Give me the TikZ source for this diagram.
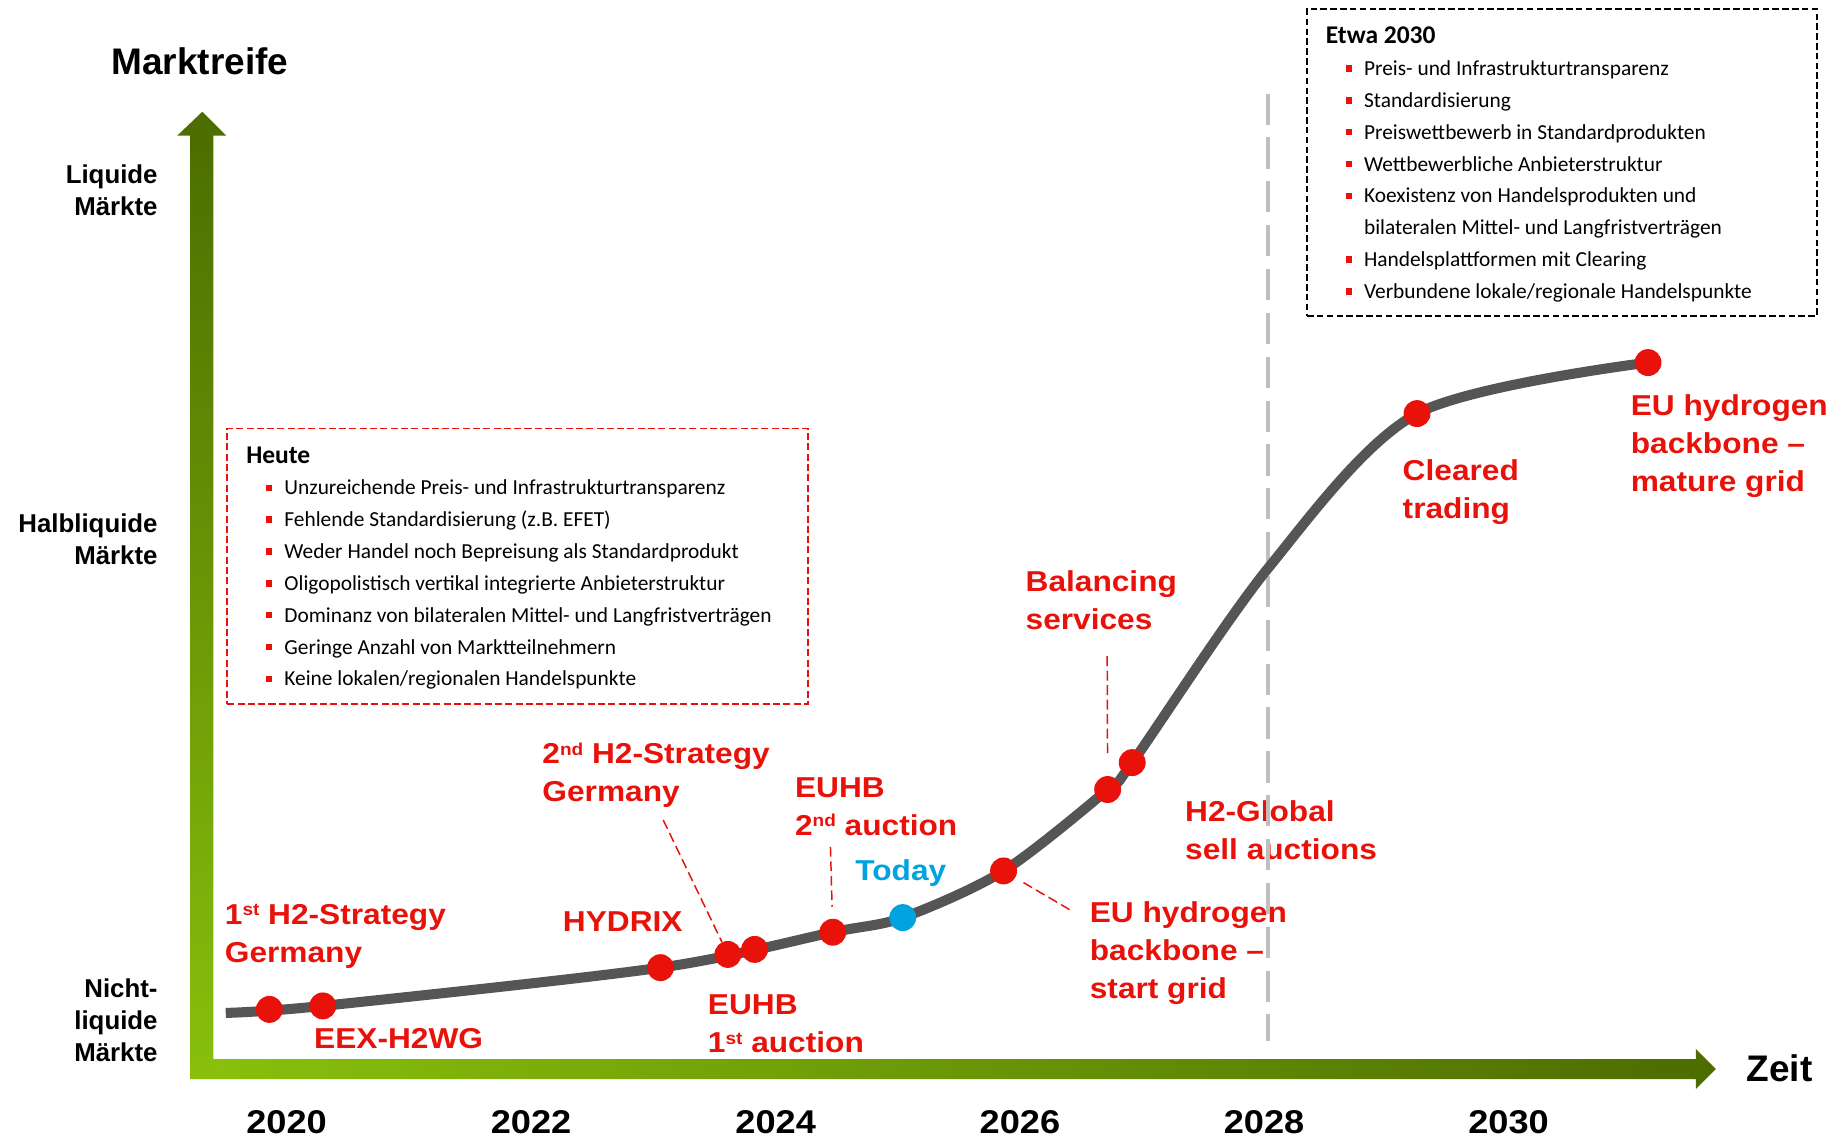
\documentclass[tikz,border=0pt]{standalone}
\usepackage{fontspec}
\setmainfont{Liberation Sans}
\newfontfamily\lblfont[FakeStretch=1.1]{Liberation Sans}
\newfontfamily\boxfont{Carlito}
\usetikzlibrary{positioning}
\definecolor{ptred}{RGB}{232,18,10}
\definecolor{todayblue}{RGB}{0,163,224}
\definecolor{curvegray}{RGB}{85,85,85}
\definecolor{linegray}{RGB}{191,191,191}
\definecolor{grlight}{RGB}{136,192,12}
\definecolor{grdark}{RGB}{76,108,0}
\newcommand{\ordsup}[1]{\raisebox{0.3em}{\fontsize{10.5}{10.5}\selectfont #1}}
\newcommand{\bul}{\hspace*{0.43cm}\makebox[0.385cm][l]{\textcolor{ptred}{\rule[0.08cm]{0.125cm}{0.14cm}}}}
\tikzset{lbl/.style={font=\lblfont\bfseries\fontsize{17.5}{23.1}\selectfont,text=ptred,inner sep=0pt,align=left,anchor=base west},
         axlbl/.style={font=\bfseries\fontsize{15.7}{19.5}\selectfont,inner sep=0pt,align=right,anchor=base east},
         axtitle/.style={font=\bfseries\fontsize{22.5}{27}\selectfont,inner sep=0pt,anchor=base west},
         year/.style={font=\lblfont\bfseries\fontsize{20}{24}\selectfont,inner sep=0pt,anchor=base},
         dot/.style={circle,fill=ptred,minimum size=0.575cm,inner sep=0pt},
         curve/.style={line width=6.1pt,curvegray},
         leader/.style={ptred,line width=0.9pt,dash pattern=on 0.21cm off 0.1cm},
         heutebox/.style={draw=ptred,line width=1.2pt,dash pattern=on 0.15cm off 0.07cm,anchor=north west,minimum width=12.41cm,minimum height=5.88cm},
         etwabox/.style={draw=black,line width=1.4pt,dash pattern=on 0.14cm off 0.07cm,anchor=north west,minimum width=10.9cm,minimum height=6.555cm},
         boxtext/.style={font=\boxfont\fontsize{13}{19.35}\selectfont,inner sep=0pt,align=left},
        }

\begin{document}
\begin{tikzpicture}[x=0.025cm,y=-0.025cm]
        \useasboundingbox (0,0) rectangle (1568,973);

        \shade[bottom color=grlight,top color=grdark](162.5,922.5)--(162.5,116)--(151.5,116)--(173,95.5)--(193.5,116)--(182.5,116)--(182.5,922.5)--cycle;
        \shade[left color=grlight,right color=grdark](182.5,905.5)--(1450,905.5)--(1450,897)--(1467,914)--(1450,931)--(1450,922.5)--(182.5,922.5)--cycle;

        \node[axtitle](reife)at(95,63.6){Marktreife};
        \node[axtitle](zeit)at(1493,924.8){Zeit};
        \node[axlbl](liq)at(135,184.5){Liquide\\Märkte};
        \node[axlbl](halb)at(135,482.5){Halbliquide\\Märkte};
        \node[axlbl](nicht)at(135,907.5){Nicht-\\liquide\\Märkte};

        \node[year](y2020)at(245,968.8){2020};
        \node[year](y2022)at(454,968.8){2022};
        \node[year](y2024)at(663.2,968.8){2024};
        \node[year](y2026)at(872,968.8){2026};
        \node[year](y2028)at(1080.7,968.8){2028};
        \node[year](y2030)at(1289.8,968.8){2030};

        \node[heutebox](heute)at(193.5,365.5){};
        \node[boxtext,below right=0.4cm and 0.42cm of heute.north west](heutetxt){{\bfseries\fontsize{15.5}{19.35}\selectfont Heute}\\
            \bul Unzureichende Preis- und Infrastrukturtransparenz\\
            \bul Fehlende Standardisierung (z.B. EFET)\\
            \bul Weder Handel noch Bepreisung als Standardprodukt\\
            \bul Oligopolistisch vertikal integrierte Anbieterstruktur\\
            \bul Dominanz von bilateralen Mittel- und Langfristverträgen\\
            \bul Geringe Anzahl von Marktteilnehmern\\
            \bul Keine lokalen/regionalen Handelspunkte};

        \node[etwabox](etwa)at(1116.5,6.8){};
        \node[boxtext,below right=0.4cm and 0.42cm of etwa.north west](etwatxt){{\bfseries\fontsize{15.5}{19.35}\selectfont Etwa 2030}\\
            \bul Preis- und Infrastrukturtransparenz\\
            \bul Standardisierung\\
            \bul Preiswettbewerb in Standardprodukten\\
            \bul Wettbewerbliche Anbieterstruktur\\
            \bul Koexistenz von Handelsprodukten und\\
            \hspace*{0.815cm}bilateralen Mittel- und Langfristverträgen\\
            \bul Handelsplattformen mit Clearing\\
            \bul Verbundene lokale/regionale Handelspunkte};

        \node[lbl](str1)at(192,823){1\ordsup{st} H2-Strategy\\Germany};
        \node[lbl](eex)at(268.3,896){EEX-H2WG};
        \node[lbl](hydrix)at(481,796.6){HYDRIX};
        \node[lbl](str2)at(463.5,685.4){2\ordsup{nd} H2-Strategy\\Germany};
        \node[lbl](auc2)at(679.5,714){EUHB\\2\ordsup{nd} auction};
        \node[lbl,text=todayblue](today)at(731,752.4){Today};
        \node[lbl](auc1)at(605,900){EUHB\\1\ordsup{st} auction};
        \node[lbl](ebb1)at(931.5,854){EU hydrogen\\backbone –\\start grid};
        \node[lbl](bal)at(876.6,538.5){Balancing\\services};
        \node[lbl](h2g)at(1013,734.6){H2-Global\\sell auctions};
        \node[lbl](clr)at(1199,443.6){Cleared\\trading};
        \node[lbl](ebb2)at(1394,420.4){EU hydrogen\\backbone –\\mature grid};

        \draw[linegray,line width=2.8pt,dash pattern=on 0.667cm off 0.27cm](1084,80)--(1084,890);

        \coordinate(k0)at(193,866);
        \coordinate(k1)at(230.3,863);
        \coordinate(k2)at(276,860);
        \coordinate(k3)at(564.7,827.3);
        \coordinate(k4)at(622.3,816);
        \coordinate(k5)at(645.2,811.7);
        \coordinate(k6)at(712,797);
        \coordinate(k7)at(771.8,784.5);
        \coordinate(k8)at(858,744.6);
        \coordinate(k9)at(947,675);
        \coordinate(k10)at(968,652);
        \coordinate(k11)at(1084,486);
        \coordinate(k12)at(1211.5,353.6);
        \coordinate(k13)at(1409,310);
        \draw[curve]plot[smooth,tension=0.5]coordinates{(k0)(k2)(k3)(k6)(k7)(k8)(k9)(k10)(k11)(k12)(k13)};

        \node[dot](d1)at(k1){};
        \node[dot](d2)at(k2){};
        \node[dot](d3)at(k3){};
        \node[dot](d4)at(k4){};
        \node[dot](d5)at(k5){};
        \node[dot](d6)at(k6){};
        \node[dot,fill=todayblue](dt)at(k7){};
        \node[dot](d7)at(k8){};
        \node[dot](d8)at(k9){};
        \node[dot](d9)at(k10){};
        \node[dot](d10)at(k12){};
        \node[dot](d11)at(k13){};

        \coordinate(s2a)at(567,701);
        \coordinate(a2a)at(710,724);
        \coordinate(e1a)at(915,778);
        \coordinate(bla)at(946.6,561);
        \draw[leader](s2a)--(d4);
        \draw[leader,shorten >=0.25cm](a2a)--(d6);
        \draw[leader,shorten <=0.2cm](d7)--(e1a);
        \draw[leader,shorten >=0.4cm](bla)--(d8);
\end{tikzpicture}
\end{document}
